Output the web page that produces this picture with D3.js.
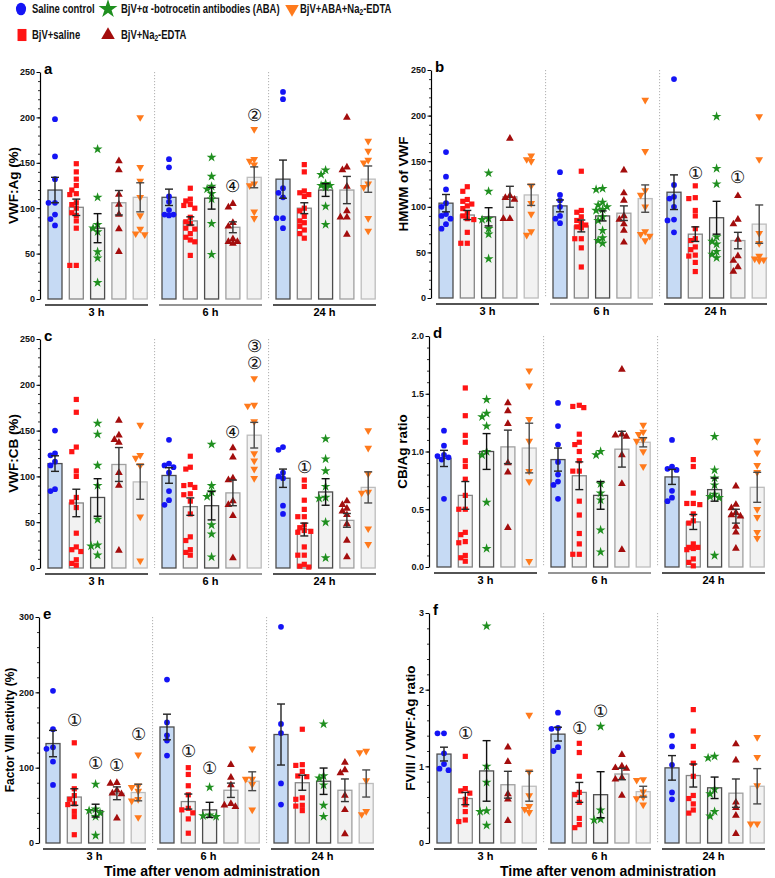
<!DOCTYPE html>
<html><head><meta charset="utf-8">
<script src="https://cdn.jsdelivr.net/npm/d3@7"></script>
<style>
body{margin:0;background:#fff}
svg{display:block}
text{font-family:"Liberation Sans",Arial,Helvetica,sans-serif}
</style>
</head><body>
<svg id="chart" width="775" height="878"></svg>
<script>
// ---------------- DATA ----------------
const groups = ["3 h", "6 h", "24 h"];
const seriesNames = ["Saline control", "BjV+saline", "BjV+α -botrocetin antibodies (ABA)", "BjV+Na2-EDTA", "BjV+ABA+Na2-EDTA"];

// a: VWF:Ag (%)
const aMean = [[120,101,78,106,112],[112,86,111,79,134],[132,100,120,120,132]];
const aSem  = [[14,9,16,13.5,16],[9,4.5,12,6,11.5],[21,6,7,15,14.5]];
const aPts = [
 [[198,157,132,106,106,93,88,81],[149,140,132,125,120,116,115,106,104,100,95,92,86,78,37,37],[165,112,82,78,74,52,45,18],[152,142,115,104,93,77,52],[200,145,130,112,92,77,72,71]],
 [[154,145,113,107,98,93,92,93],[122,110,108,104,103,100,90,85,83,78,77,72,68,65,63,48],[156,135,124,121,116,110,83,49],[105,101,84,80,66,63,61,63],[187,154,152,148,127,125,96,89]],
 [[228,220,122,117,112,89,89,78],[148,140,119,117,115,113,100,97,91,86,84,80,76,72,67],[142,137,127,125,125,123,102,82],[200,145,142,124,97,90,90,71],[174,163,153,150,127,123,89,75]]
];
const aAnn = [{g:1,s:4,v:202,t:"②"},{g:1,s:3,v:124,t:"④"}];

// b: HMWM of VWF
const bMean = [[104,91,89,111,113],[101,79,90,93,109],[116,70,88,63,81]];
const bSem  = [[9.5,5,10,11.5,11.5],[6.5,6.5,5.5,8,15],[19,8,18,9,21]];
const bPts = [
 [[160,133,119,104,100,92,90,87,81,76],[122,117,108,106,103,101,98,93,90,87,86,72,60,60],[137,117,87,86,76,70,43],[175,112,110,108,87,87],[156,152,150,123,104,92,73,69]],
 [[138,113,107,100,90,87,82],[139,96,94,89,85,82,80,78,77,65,65,55,34],[120,119,105,102,100,97,96,89,85,74,66,63,60],[140,115,107,90,86,81,74,61],[217,161,118,113,100,73,70,68,63]],
 [[240,124,111,109,100,86,85,72],[123,110,109,96,90,76,65,63,56,53,47,46,39,29],[199,142,125,67,62,59,51,48,44],[112,86,81,64,46,41,34,29],[199,152,71,60,46,43,42,41]]
];
const bAnn = [{g:2,s:1,v:137,t:"①"},{g:2,s:3,v:132,t:"①"}];

// c: VWF:CB (%)
const cMean = [[114,71,77,113,94],[101,67,68,82,145],[98,42,83,52,88]];
const cSem  = [[8.5,15,20.5,18.5,19],[8.5,9.5,15.5,14,14],[10,7,14.5,7.5,17]];
const cPts = [
 [[150,125,123,116,112,86,84],[184,170,132,127,106,100,77,72,66,38,23,20,18,9,5,3],[158,146,112,90,53,25,24,14],[161,145,140,137,104,90,19],[156,123,120,112,56,8]],
 [[140,114,112,110,104,84,74,69],[122,110,108,91,90,88,81,80,73,59,34,30,20,17,14],[135,90,83,78,47,37,12],[131,121,98,96,73,69,57,11],[207,178,177,160,125,117,108,98]],
 [[132,129,104,100,98,68,59],[96,89,74,64,56,56,47,44,41,40,39,23,14,14,4,2,1],[141,119,106,89,77,76,50,11],[73,69,65,62,58,48,30,12],[150,131,103,83,82,43,26]]
];
const cAnn = [{g:1,s:4,v:242,t:"③"},{g:1,s:4,v:223,t:"②"},{g:1,s:3,v:148,t:"④"},{g:2,s:1,v:110,t:"①"}];

// d: CB/Ag ratio
const dMean = [[0.94,0.62,1.00,1.04,1.03],[0.93,0.79,0.62,1.02,1.08],[0.78,0.39,0.67,0.44,0.69]];
const dSem  = [[0.07,0.12,0.155,0.145,0.215],[0.10,0.12,0.12,0.155,0.04],[0.065,0.065,0.10,0.06,0.13]];
const dPts = [
 [[1.18,1.05,0.97,0.96,0.95,0.93,0.59],[1.55,1.31,1.14,1.08,0.92,0.87,0.76,0.62,0.50,0.50,0.30,0.28,0.22,0.21,0.10,0.08,0.05],[1.45,1.33,1.30,1.22,1.00,0.97,0.56,0.16],[1.42,1.35,1.24,0.90,0.82,0.34],[1.70,1.57,1.28,1.09,0.83,0.74,0.05]],
 [[1.42,1.22,1.06,0.91,0.80,0.74,0.71,0.59],[1.40,1.39,1.38,1.15,1.08,1.06,1.00,0.92,0.83,0.83,0.57,0.45,0.29,0.20,0.11,0.11],[1.00,0.97,0.72,0.64,0.58,0.32,0.13],[1.71,1.15,1.14,1.13,0.97,0.72,0.15],[1.23,1.17,1.15,1.10,1.09,1.00,0.87]],
 [[1.10,0.87,0.85,0.84,0.66,0.60,0.57],[0.93,0.87,0.64,0.55,0.55,0.54,0.46,0.40,0.38,0.20,0.17,0.17,0.16,0.15,0.07,0.04,0.01],[1.13,0.84,0.77,0.71,0.63,0.61,0.60,0.10],[0.70,0.54,0.51,0.47,0.45,0.44,0.35,0.30,0.16],[1.09,0.99,0.88,0.82,0.50,0.43,0.30,0.25]]
];
const dAnn = [];

// e: Factor VIII activity (%)
const eMean = [[132,61,43,66,67],[154,55,44,70,82],[144,80,82,70,79]];
const eSem  = [[17.5,11,8.5,8.5,11],[17,10,10,9.5,12.5],[40.5,10,17.5,15,18]];
const ePts = [
 [[202,151,127,125,108,77],[133,89,72,63,58,52,51,42,35,11],[78,45,43,40,35,10],[80,79,70,66,65,33],[117,76,74,69,58,56,34]],
 [[217,160,143,136,116],[100,91,76,64,46,44,40,32,13],[74,37,36,35],[104,87,77,52,50,48],[125,85,85,78,44]],
 [[287,158,146,79,51],[151,104,103,95,89,88,60,58,50,49,43],[158,89,86,77,50,35],[107,97,93,63,44,12],[122,120,83,42,38]]
];
const eAnn = [{g:0,s:1,v:162,t:"①"},{g:0,s:2,v:105,t:"①"},{g:0,s:3,v:103,t:"①"},{g:0,s:4,v:144,t:"①"},{g:1,s:1,v:122,t:"①"},{g:1,s:2,v:99,t:"①"}];

// f: FVIII / VWF:Ag ratio
const fMean = [[1.16,0.58,0.94,0.76,0.74],[1.42,0.66,0.63,0.90,0.67],[0.98,0.88,0.72,0.65,0.74]];
const fSem  = [[0.09,0.08,0.395,0.175,0.195],[0.09,0.13,0.30,0.075,0.07],[0.16,0.15,0.14,0.185,0.23]];
const fPts = [
 [[1.43,1.43,1.17,1.03,0.97,0.95],[1.13,0.71,0.68,0.65,0.57,0.50,0.41,0.30,0.28],[2.83,1.00,0.79,0.42,0.41,0.23],[1.25,1.06,0.64,0.57,0.29],[1.67,0.93,0.62,0.48,0.44,0.40]],
 [[1.70,1.50,1.49,1.25,1.20],[1.30,1.18,0.87,0.66,0.63,0.53,0.32,0.24,0.20],[1.52,0.43,0.31,0.30],[1.15,1.00,0.98,0.97,0.85,0.83,0.62],[0.83,0.82,0.67,0.60,0.58,0.50]],
 [[1.40,1.26,1.02,0.66,0.57],[1.74,1.46,1.26,1.04,0.87,0.62,0.58,0.51,0.43,0.39],[1.13,1.11,0.70,0.64,0.41,0.35],[1.29,1.08,0.53,0.46,0.36,0.12],[1.38,1.12,0.75,0.25,0.25]]
];
const fAnn = [{g:0,s:1,v:1.43,t:"①"},{g:1,s:1,v:1.50,t:"①"},{g:1,s:2,v:1.72,t:"①"}];

const xTitle = "Time after venom administration";

// ---------------- STYLE / LAYOUT ----------------
const colors = ["#1414f5", "#ff1414", "#1f8f1f", "#a30d0d", "#ff7a1c"];
const barFill = ["#c6daf4", "#f2f2f2", "#f2f2f2", "#f2f2f2", "#f2f2f2"];
const barStroke = ["#4d4d4d", "#858585", "#4d4d4d", "#a0a0a0", "#bdbdbd"];
const errStroke = ["#222", "#222", "#111", "#333", "#4a4a4a"];
const symTypes = [d3.symbolCircle, d3.symbolSquare, d3.symbolStar, d3.symbolTriangle, d3.symbolTriangle];
const symRot = [0, 0, 0, 0, 180];
const symSize = [26, 27, 30, 26, 26];

const panels = [
 {id:"a", mean:aMean, sem:aSem, pts:aPts, ann:aAnn, max:250, major:50, minor:10, fmt:d3.format("d"), label:"VWF:Ag (%)", fs:13.5, L:{axisX:40, x0:42, top:72, bottom:299, labX:13}},
 {id:"b", mean:bMean, sem:bSem, pts:bPts, ann:bAnn, max:250, major:50, minor:10, fmt:d3.format("d"), label:"HMWM of VWF", fs:13.5, L:{axisX:431, x0:433, top:70, bottom:298, labX:403}},
 {id:"c", mean:cMean, sem:cSem, pts:cPts, ann:cAnn, max:250, major:50, minor:10, fmt:d3.format("d"), label:"VWF:CB (%)", fs:13.5, L:{axisX:40, x0:42, top:339, bottom:568, labX:13}},
 {id:"d", mean:dMean, sem:dSem, pts:dPts, ann:dAnn, max:2, major:0.5, minor:0.1, fmt:d3.format(".1f"), label:"CB/Ag ratio", fs:13.5, L:{axisX:429, x0:431, top:336, bottom:567, labX:402}},
 {id:"e", mean:eMean, sem:eSem, pts:ePts, ann:eAnn, max:300, major:100, minor:20, fmt:d3.format("d"), label:"Factor VIII activity  (%)", fs:12, L:{axisX:39, x0:40, top:617, bottom:843, labX:10}},
 {id:"f", mean:fMean, sem:fSem, pts:fPts, ann:fAnn, max:3, major:1, minor:0.2, fmt:d3.format("d"), label:"FVIII / VWF:Ag ratio", fs:13.5, L:{axisX:429, x0:431, top:613, bottom:843, labX:410}}
];

const svg = d3.select("#chart");

function fontOK(name){
  const ctx = document.createElement("canvas").getContext("2d");
  ctx.font = "bold 30px monospace";
  const w0 = ctx.measureText("BjV+saline control").width;
  ctx.font = `bold 30px "${name}", monospace`;
  return Math.abs(ctx.measureText("BjV+saline control").width - w0) > 0.5;
}
const narrow = fontOK("Liberation Sans Narrow");

function sym(i, size){
  return d3.symbol().type(symTypes[i]).size(size)();
}

function addLabelText(sel, str){
  const parts = str.split("Na2");
  sel.text(null);
  parts.forEach((p, k) => {
    if (k > 0) {
      sel.append("tspan").text("Na");
      sel.append("tspan").attr("dy", 3).attr("font-size", "0.7em").text("2");
      sel.append("tspan").attr("dy", -3).text(p);
    } else sel.append("tspan").text(p);
  });
}

// -------- panels --------
panels.forEach(P => {
  const L = P.L;
  const g = svg.append("g");
  const y = d3.scaleLinear().domain([0, P.max]).range([L.bottom, L.top]);
  const xg = d3.scaleBand().domain(groups).range([L.x0, L.x0 + 342]).padding(0);
  const xs = d3.scaleBand().domain(d3.range(5)).range([6, 105.2]).paddingInner(0.343).paddingOuter(0);
  const bw = xs.bandwidth();
  const cx = (gi, si) => xg(groups[gi]) + xs(si) + bw / 2;

  // separators
  [1, 2].forEach(gi => {
    const xl = (cx(gi - 1, 4) + bw / 2 + cx(gi, 0) - bw / 2) / 2;
    g.append("line").attr("x1", xl).attr("x2", xl).attr("y1", L.top).attr("y2", L.bottom)
      .attr("stroke", "#9a9a9a").attr("stroke-width", 0.8).attr("stroke-dasharray", "1.2,1.8");
  });

  // y axis
  const minorTicks = d3.range(0, P.max + P.minor / 2, P.minor);
  const axMinor = d3.axisLeft(y).tickValues(minorTicks).tickSize(2).tickFormat("");
  const gm = g.append("g").attr("transform", `translate(${L.axisX},0)`).call(axMinor);
  gm.select(".domain").remove();
  gm.selectAll("line").attr("stroke", "#000").attr("stroke-width", 0.8);
  const majorTicks = d3.range(0, P.max + P.major / 2, P.major);
  const axMajor = d3.axisLeft(y).tickValues(majorTicks).tickSize(3.5).tickSizeOuter(0).tickPadding(1.5).tickFormat(P.fmt);
  const ga = g.append("g").attr("transform", `translate(${L.axisX},0)`).call(axMajor);
  ga.select(".domain").attr("stroke", "#000").attr("stroke-width", 1.2);
  ga.selectAll("line").attr("stroke", "#000").attr("stroke-width", 1);
  ga.selectAll("text").attr("font-size", 9).attr("font-weight", "bold").attr("fill", "#111")
    .attr("font-family", "'Liberation Sans',Arial,sans-serif");

  // panel letter
  g.append("text").attr("x", L.axisX + 4).attr("y", L.top + 2).attr("font-size", 15).attr("font-weight", "bold").text(P.id);

  // y label
  g.append("text").attr("transform", `translate(${L.labX},${(L.top + L.bottom) / 2}) rotate(-90)`)
    .attr("text-anchor", "middle").attr("dy", "0.35em").attr("font-size", P.fs).attr("font-weight", "bold")
    .text(P.label);

  // bars
  groups.forEach((gn, gi) => {
    d3.range(5).forEach(si => {
      const m = P.mean[gi][si];
      g.append("rect").attr("x", xg(gn) + xs(si)).attr("width", bw)
        .attr("y", y(m)).attr("height", y(0) - y(m))
        .attr("fill", barFill[si]).attr("stroke", barStroke[si]).attr("stroke-width", 1.3);
    });
  });

  // points (simple beeswarm placement)
  groups.forEach((gn, gi) => {
    d3.range(5).forEach(si => {
      const vals = P.pts[gi][si].slice().sort((p, q) => q - p);
      const placed = [];
      const c = cx(gi, si);
      const dmin = 4.8;
      const cand = [0, -4.5, 4.5, -2.25, 2.25, -6.5, 6.5];
      vals.forEach(v => {
        const py = y(v);
        let best = 0, bestScore = Infinity;
        for (const off of cand) {
          let worst = 0;
          placed.forEach(p => {
            const dd = Math.hypot(p[0] - off, p[1] - py);
            if (dd < dmin) worst = Math.max(worst, dmin - dd);
          });
          const score = worst * 10 + Math.abs(off) * 0.01;
          if (score < bestScore) { bestScore = score; best = off; }
          if (worst === 0) { best = off; break; }
        }
        placed.push([best, py]);
        g.append("path").attr("d", sym(si, symSize[si]))
          .attr("transform", `translate(${c + best},${py}) rotate(${symRot[si]})`)
          .attr("fill", colors[si]);
      });
    });
  });

  // error bars
  groups.forEach((gn, gi) => {
    d3.range(5).forEach(si => {
      const m = P.mean[gi][si], s = P.sem[gi][si], c = cx(gi, si);
      const eg = g.append("g").attr("stroke", errStroke[si]).attr("stroke-width", 1.4).attr("fill", "none");
      eg.append("line").attr("x1", c).attr("x2", c).attr("y1", y(m + s)).attr("y2", y(m - s));
      [m + s, m - s].forEach(v => eg.append("line").attr("x1", c - 4).attr("x2", c + 4).attr("y1", y(v)).attr("y2", y(v)));
    });
  });

  // annotations
  P.ann.forEach(a => {
    g.append("text").attr("x", cx(a.g, a.s)).attr("y", y(a.v)).attr("text-anchor", "middle")
      .attr("dominant-baseline", "central").attr("font-size", 17)
      .attr("font-family", "'Noto Sans CJK JP','DejaVu Sans',sans-serif").attr("font-weight", "normal")
      .attr("fill", "#111")
      .text(a.t);
  });

  // group lines + labels
  groups.forEach((gn, gi) => {
    const x1 = xg(gn) + 3, x2 = xg(gn) + 106;
    g.append("line").attr("x1", x1).attr("x2", x2).attr("y1", L.bottom + 6).attr("y2", L.bottom + 6)
      .attr("stroke", gi === 1 ? "#707070" : "#1a1a1a").attr("stroke-width", 1.6);
    g.append("text").attr("x", (x1 + x2) / 2).attr("y", L.bottom + 17).attr("text-anchor", "middle")
      .attr("font-size", 11).attr("font-weight", "bold").text(gn);
  });
});

// x titles
[[212, 876], [608, 876]].forEach(p => {
  svg.append("text").attr("x", p[0]).attr("y", p[1]).attr("text-anchor", "middle")
    .attr("font-size", 14).attr("font-weight", "bold").text(xTitle);
});

// legend
const legPos = [[21, 9, 32], [22, 35, 32], [108, 9, 121], [108, 35, 121], [292, 9, 300]];
seriesNames.forEach((name, si) => {
  const p = legPos[si];
  svg.append("path").attr("d", sym(si, si === 2 ? 110 : 80))
    .attr("transform", `translate(${p[0]},${p[1]}) rotate(${symRot[si]}) scale(1,${si === 1 ? 1.35 : (si === 0 ? 1.25 : 1)})`)
    .attr("fill", colors[si]);
  const t = svg.append("text").attr("font-size", 12).attr("font-weight", "bold").attr("fill", "#111")
    .attr("dominant-baseline", "central");
  if (narrow) {
    t.attr("x", p[2]).attr("y", p[1]).attr("font-family", "'Liberation Sans Narrow',sans-serif");
  } else {
    t.attr("transform", `translate(${p[2]},${p[1]}) scale(0.79,1)`);
  }
  addLabelText(t, name);
});
</script>
</body></html>
